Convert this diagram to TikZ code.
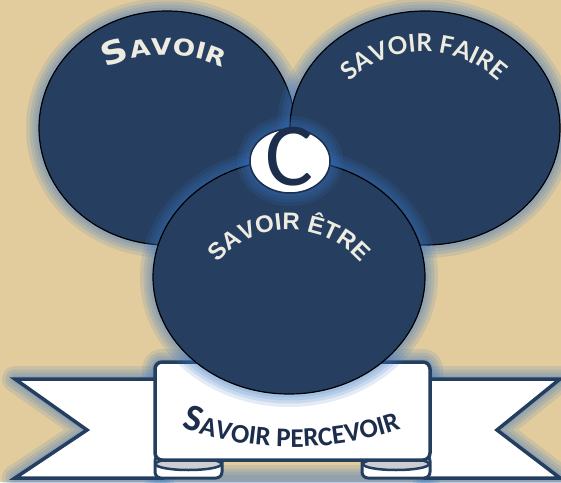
\documentclass[tikz,border=0pt]{standalone}
\usepackage{fontspec}
\usetikzlibrary{decorations.text}
\newfontfamily\cpFont{DejaVu Sans}[FakeStretch=1.15]
\newfontfamily\arFont{Liberation Sans}
\newfontfamily\caFont{Carlito}
\newfontfamily\laFont{Lato}
\definecolor{bgtan}{RGB}{226,204,157}
\definecolor{navyfill}{RGB}{38,63,96}
\definecolor{glowc}{RGB}{55,115,195}
\definecolor{txtlight}{RGB}{238,236,225}
\definecolor{bannerline}{RGB}{36,62,96}
\definecolor{bannertext}{RGB}{28,46,76}
\definecolor{curlgray}{RGB}{205,205,212}
\newcommand\svBigS{\cpFont\bfseries\fontsize{32}{32}\selectfont}
\newcommand\svSmall{\cpFont\bfseries\fontsize{23}{23}\selectfont}
\newcommand\sfFont{\laFont\bfseries\fontsize{24.5}{24.5}\selectfont}
\newcommand\etFont{\arFont\bfseries\fontsize{24}{24}\selectfont}
\newcommand\pcBig{\caFont\bfseries\fontsize{38}{38}\selectfont}
\newcommand\pcSmall{\caFont\bfseries\fontsize{27}{27}\selectfont}
\tikzset{
  bubble/.style={fill=navyfill, draw=black, line width=1.2pt},
  glowline/.style={draw=glowc, draw opacity=0.14, line join=round},
  tailshape/.style={fill=white, draw=bannerline, line width=3.5pt, line join=miter},
  curlshape/.style={fill=white, draw=bannerline, line width=3pt, rounded corners=6pt},
  curlroll/.style={fill=curlgray, draw=bannerline, line width=2.5pt},
  arctext/.style={decorate, decoration={text along path, text align=center, text color=#1}},
}
\newcommand\glowit[1]{\foreach \gw in {26,19,13,7}{\path[glowline, line width=\gw pt] #1;}}
\begin{document}
\begin{tikzpicture}[x=1pt,y=1pt]
\useasboundingbox (0,0) rectangle (561,482);
\fill[bgtan] (0,0) rectangle (561,482);
% banner glow
\glowit{(15,103) -- (162,103) -- (162,4) -- (15,4) -- (87,52) -- cycle}
\glowit{(560,103) -- (425,103) -- (425,4) -- (560,4) -- (497,52) -- cycle}
\glowit{[rounded corners=7pt] (155,4) rectangle (430,120)}
% tails
\path[tailshape] (15,103) -- (162,103) -- (162,4) -- (15,4) -- (87,52) -- cycle;
\path[tailshape] (560,103) -- (425,103) -- (425,4) -- (560,4) -- (497,52) -- cycle;
% curls
\path[curlshape] (155,27) rectangle (222,4);
\path[curlshape] (362,27) rectangle (430,4);
\path[curlroll] (188.5,18) ellipse [x radius=33, y radius=6];
\path[curlroll] (396,18) ellipse [x radius=33, y radius=6];
% panel
\path[fill=white, draw=bannerline, line width=3.5pt, rounded corners=7pt] (155,22) rectangle (430,120);
% circles
\glowit{(167,354) ellipse [x radius=128, y radius=117]}
\path[bubble] (167,354) ellipse [x radius=128, y radius=117];
\glowit{(425,354) ellipse [x radius=135, y radius=117]}
\path[bubble] (425,354) ellipse [x radius=135, y radius=117];
\glowit{(289,205) ellipse [x radius=136, y radius=117]}
\path[bubble] (289,205) ellipse [x radius=136, y radius=117];
% C logo
\glowit{(290,321) ellipse [x radius=40, y radius=32]}
\path[fill=white, draw=bannertext, line width=1.5pt] (290,321) ellipse [x radius=40, y radius=32];
\node[inner sep=0pt, text=bannertext, font=\caFont\fontsize{90}{90}\selectfont] (clogo) at (289,325) {C};
% SAVOIR (big S, then small capitals), joined at 104 degrees
\path[arctext=txtlight, decoration={text={|\svBigS|S}, text align=right}]
  (165,287) ++(150:140) arc[start angle=150, end angle=104, radius=140];
\path[arctext=txtlight, decoration={text={|\svSmall|AVOIR}, text align=left}]
  (165,287) ++(104:140) arc[start angle=104, end angle=20, radius=140];
% SAVOIR FAIRE
\path[arctext=txtlight, decoration={text={|\sfFont|SAVOIR FAIRE}}]
  (424,320) ++(179:110) arc[start angle=179, end angle=1, radius=110];
% SAVOIR ETRE
\path[arctext=txtlight, decoration={text={|\etFont|SAVOIR ÊTRE}}]
  (289,157) ++(179:95) arc[start angle=179, end angle=1, radius=95];
% SAVOIR PERCEVOIR (big S, then small capitals), joined at 253.5 degrees
\path[arctext=bannertext, decoration={text={|\pcBig|S}, text align=right}]
  (293,368) ++(230:333) arc[start angle=230, end angle=253.5, radius=333];
\path[arctext=bannertext, decoration={text={|\pcSmall|AVOIR PERCEVOIR}, text align=left}]
  (293,368) ++(253.5:333) arc[start angle=253.5, end angle=310, radius=333];
\end{tikzpicture}
\end{document}
